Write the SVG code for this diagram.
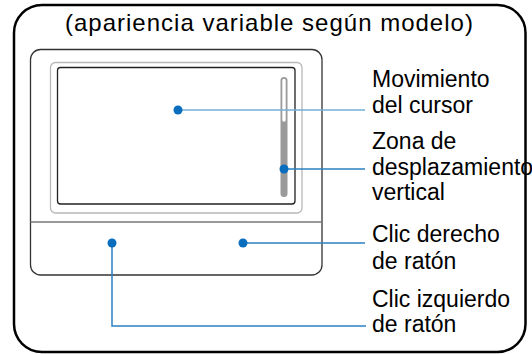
<svg xmlns="http://www.w3.org/2000/svg" width="532" height="354" viewBox="0 0 532 354">
<style>
.lbl{font-family:"Liberation Sans",Arial,sans-serif;font-size:23px;fill:#000}
.dot{fill:#0a6dbd}
.ln{fill:none;stroke:#2b80c2;stroke-width:1.5}
</style>
<rect width="532" height="354" fill="#fff"/>
<g id="frame">
<rect x="14" y="5" width="511.5" height="347" rx="28" fill="none" stroke="#000" stroke-width="2.5"/>
<text class="lbl" x="65" y="31" style="font-size:24px;letter-spacing:1px">(apariencia variable según modelo)</text>
</g>
<g id="touchpad">
<rect x="30.5" y="49.5" width="291.5" height="225.5" rx="10" fill="#fff" stroke="#333" stroke-width="1.3"/>
<rect x="50.5" y="62.5" width="251.5" height="150.5" rx="5" fill="#fff" stroke="#b8b8b8" stroke-width="1.3"/>
<rect x="57.5" y="67.5" width="237.5" height="136.5" rx="3" fill="#fff" stroke="#222" stroke-width="1.3"/>
<line x1="30.5" y1="222" x2="322" y2="222" stroke="#777" stroke-width="1.6"/>
<rect x="280.5" y="77" width="7" height="120" rx="3.5" fill="#9a9a9a"/>
<rect x="282.3" y="78.8" width="3.4" height="43" rx="1.7" fill="#fff"/>
</g>
<g id="connectors">
<line x1="178" y1="110" x2="365" y2="110" stroke="#72b1da" stroke-width="1.5"/>
<line class="ln" x1="284" y1="169" x2="365" y2="169"/>
<line class="ln" x1="243" y1="243" x2="365" y2="243"/>
<polyline class="ln" points="112,243 112,326 366,326"/>
</g>
<g id="cursor-movement">
<circle class="dot" cx="178" cy="110" r="4.5"/>
<text class="lbl" x="372" y="87">Movimiento</text>
<text class="lbl" x="372" y="113">del cursor</text>
</g>
<g id="vertical-scroll">
<circle class="dot" cx="284" cy="169" r="4.5"/>
<text class="lbl" x="372" y="149">Zona de</text>
<text class="lbl" x="372" y="175">desplazamiento</text>
<text class="lbl" x="372" y="200">vertical</text>
</g>
<g id="right-click">
<circle class="dot" cx="243" cy="243" r="4.5"/>
<text class="lbl" x="372" y="242">Clic derecho</text>
<text class="lbl" x="372" y="269">de ratón</text>
</g>
<g id="left-click">
<circle class="dot" cx="112" cy="243" r="4.5"/>
<text class="lbl" x="372" y="307">Clic izquierdo</text>
<text class="lbl" x="372" y="332">de ratón</text>
</g>
</svg>
